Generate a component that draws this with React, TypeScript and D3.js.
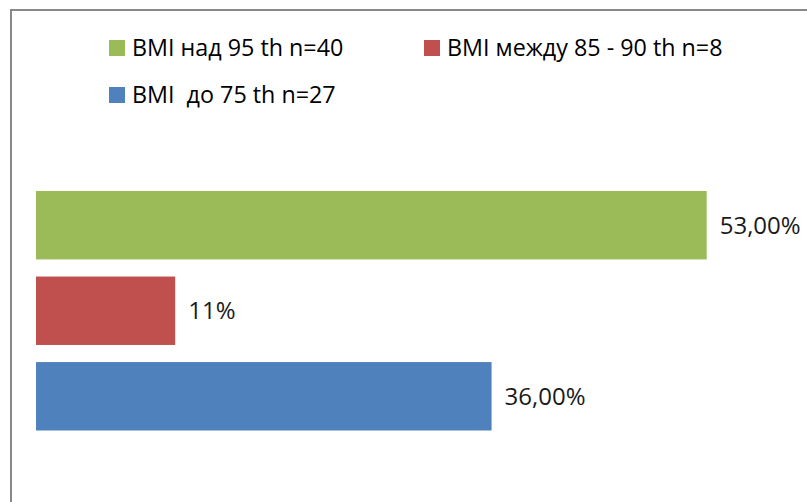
import React from "react";
import * as d3 from "d3";

// Shares of children by BMI group
const categories = ["over95", "between85_90", "upTo75"];
const values = [53, 11, 36];
const valueLabels = ["53,00%", "11%", "36,00%"];
const colors = ["#9BBB59", "#C0504D", "#4F81BD"];
const legendLabels = [
  "BMI над 95 th n=40",
  "BMI между 85 - 90 th n=8",
  "BMI  до 75 th n=27",
];

const W = 807;
const H = 502;
const FONT = "'Open Sans', 'Noto Sans', sans-serif";

export default function App() {
  const x = d3.scaleLinear().domain([0, 60]).range([36, 795.3]);
  const y = d3
    .scaleBand<string>()
    .domain(categories)
    .range([191, 430.5])
    .paddingInner(0.2)
    .paddingOuter(0);

  // legend layout: two columns, wrapping to a second row
  const legendPos = [
    { x: 109, y: 40 },
    { x: 424, y: 40 },
    { x: 109, y: 87 },
  ];

  return (
    <svg
      width={W}
      height={H}
      style={{ position: "fixed", left: 0, top: 0, display: "block", background: "#fff" }}
    >
      <rect x={11} y={10} width={W + 20} height={H + 20} fill="#fff" stroke="#898989" strokeWidth={2} />

      {legendLabels.map((label, i) => (
        <g key={label} transform={`translate(${legendPos[i].x},${legendPos[i].y})`}>
          <rect width={16} height={16} fill={colors[i]} />
          <text x={23} y={16} fontFamily={FONT} fontSize={23.3} fill="#000" style={{ whiteSpace: "pre" }}>
            {label}
          </text>
        </g>
      ))}

      {categories.map((c, i) => {
        const y0 = y(c) as number;
        const bw = y.bandwidth();
        return (
          <g key={c}>
            <rect x={x(0)} y={y0} width={x(values[i]) - x(0)} height={bw} fill={colors[i]} />
            <text
              x={x(values[i]) + 13}
              y={y0 + bw / 2}
              dy="0.35em"
              fontFamily={FONT}
              fontSize={24}
              fill="#1a1a1a"
            >
              {valueLabels[i]}
            </text>
          </g>
        );
      })}
    </svg>
  );
}
